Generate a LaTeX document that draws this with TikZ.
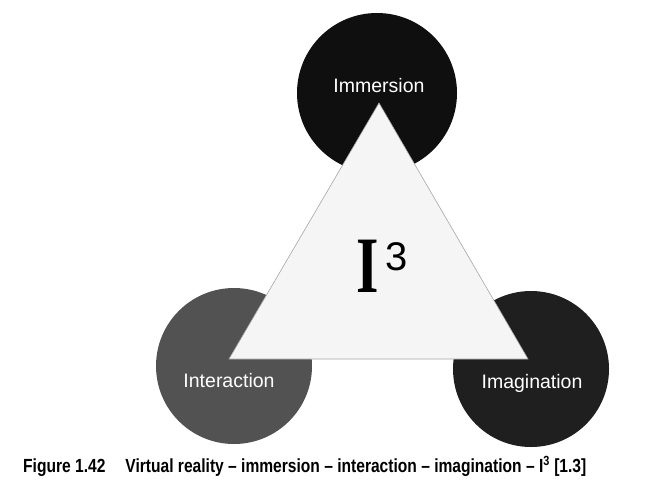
\documentclass[tikz,border=0pt]{standalone}
\usepackage{fontspec}
\setmainfont{Liberation Sans}
\newfontfamily\capfont[FakeStretch=0.82]{Liberation Sans}
\newfontfamily\romfont{Liberation Serif}
\definecolor{immcol}{gray}{0.06}
\definecolor{intcol}{gray}{0.32}
\definecolor{imgcol}{gray}{0.12}
\definecolor{tricol}{gray}{0.96}
\tikzset{
  disc/.style={circle, draw=none, inner sep=0pt, minimum size=#1},
  lbl/.style={text=white, anchor=base, font=\fontsize{19.5}{19.5}\selectfont}
}
\begin{document}
\begin{tikzpicture}[x=1pt, y=-1pt]
        \useasboundingbox (0,0) rectangle (666,483);
        \node[disc=160pt, fill=immcol] (immersion) at (377,93) {};
        \node[disc=156pt, fill=intcol] (interaction) at (234,366) {};
        \node[disc=156pt, fill=imgcol] (imagination) at (531,369) {};
        % triangle on top of the three circles
        \coordinate (top) at (379,103);
        \coordinate (left) at (229,359);
        \coordinate (right) at (528,359);
        \filldraw[fill=tricol, draw=gray!70, line width=0.6pt] (top) -- (left) -- (right) -- cycle;
        \node[lbl] (immlabel) at (379,92) {Immersion};
        \node[lbl] (intlabel) at (229,387) {Interaction};
        \node[lbl] (imglabel) at (532,388) {Imagination};
        \node[anchor=base west, inner sep=0pt] (core) at (356,292)
          {\scalebox{0.72}[1]{\romfont\bfseries\fontsize{80}{80}\selectfont I}\hspace{7pt}\raisebox{22pt}{\fontsize{40}{40}\selectfont 3}};
        %\draw (381,265) node {$I^3$};
        \node[anchor=base west, inner sep=0pt, font=\capfont\bfseries\fontsize{19}{19}\selectfont] (caption) at (23,472)
          {Figure 1.42\hspace*{20pt}Virtual reality – immersion – interaction – imagination – I\textsuperscript{3} [1.3]};
\end{tikzpicture}
\end{document}
